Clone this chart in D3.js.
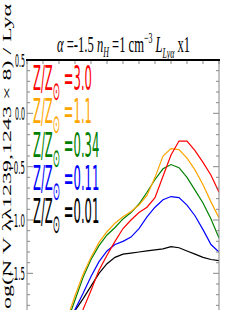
<!DOCTYPE html>
<html>
<head>
<meta charset="utf-8">
<script src="https://cdn.jsdelivr.net/npm/d3@7"></script>
<style>
body { margin: 0; background: #fff; }
svg { display: block; }
</style>
</head>
<body>
<div id="chart"></div>
<script>
// values
var xVals = [2.5, 3, 3.5, 4, 4.5, 5, 5.5, 6, 6.5, 7, 7.5, 8, 8.5, 9, 9.5, 10, 10.5, 11, 11.5, 12];
var zRed    = [-2.22, -2.03, -1.84, -1.66, -1.47, -1.33, -1.20, -1.08, -1.00, -0.93, -0.88, -0.79, -0.59, -0.39, -0.26, -0.26, -0.35, -0.46, -0.58, -0.74];
var zOrange = [-1.93, -1.71, -1.51, -1.35, -1.21, -1.11, -1.03, -0.97, -0.92, -0.86, -0.77, -0.60, -0.40, -0.33, -0.34, -0.42, -0.53, -0.67, -0.83, -0.98];
var zGreen  = [-1.96, -1.75, -1.54, -1.37, -1.24, -1.14, -1.07, -0.99, -0.93, -0.85, -0.74, -0.62, -0.52, -0.48, -0.51, -0.60, -0.72, -0.84, -0.99, -1.17];
var zBlue   = [-1.99, -1.84, -1.69, -1.53, -1.39, -1.29, -1.23, -1.20, -1.16, -1.08, -0.97, -0.88, -0.81, -0.78, -0.79, -0.86, -0.96, -1.09, -1.23, -1.30];
var zBlack  = [-1.98, -1.85, -1.74, -1.62, -1.50, -1.41, -1.35, -1.32, -1.31, -1.30, -1.29, -1.28, -1.27, -1.25, -1.26, -1.29, -1.32, -1.35, -1.37, -1.38];

var metals = ["3.0", "1.1", "0.34", "0.11", "0.01"];
var colors = ["#ff0000", "#ffa500", "#008000", "#0000ff", "#000000"];
var series = [zRed, zOrange, zGreen, zBlue, zBlack];
var yTicks = [0.5, 0.0, -0.5, -1.0, -1.5];

var W = 244, H = 310;
var padL = 27, padR = 219, padT = 60;

var svg = d3.select("#chart").append("svg")
    .attr("width", W)
    .attr("height", H);

var x = d3.scaleLinear().domain([0, 12]).range([padL, padR]);
var y = d3.scaleLinear().domain([-2.5, 0.5]).range([padT + 3 * 106.67, padT]);

svg.append("clipPath").attr("id", "plot")
    .append("rect")
    .attr("x", padL).attr("y", padT)
    .attr("width", padR - padL).attr("height", H - padT);

// curves
var line = d3.line()
    .x(function (d, i) { return x(xVals[i]); })
    .y(function (d) { return y(d); });

var g = svg.append("g").attr("clip-path", "url(#plot)");
for (var s = series.length - 1; s >= 0; s--) {
    g.append("path")
        .attr("d", line(series[s]))
        .attr("fill", "none")
        .attr("stroke", colors[s])
        .attr("stroke-width", 1.2);
}

// frame
svg.append("line")
    .attr("x1", padL).attr("y1", padT).attr("x2", padL).attr("y2", H)
    .attr("stroke", "#888").attr("stroke-width", 1);
svg.append("line")
    .attr("x1", padR).attr("y1", padT).attr("x2", padR).attr("y2", H)
    .attr("stroke", "#888").attr("stroke-width", 1);

// minor y ticks on both sides
var minor = d3.range(-25, 6).map(function (i) { return i / 10; });
minor.forEach(function (v) {
    var major = Math.abs(v * 2 - Math.round(v * 2)) < 1e-6;
    var len = major ? 6 : 3;
    svg.append("line")
        .attr("x1", padL).attr("x2", padL + len)
        .attr("y1", y(v)).attr("y2", y(v))
        .attr("stroke", "#888");
    svg.append("line")
        .attr("x1", padR).attr("x2", padR - len)
        .attr("y1", y(v)).attr("y2", y(v))
        .attr("stroke", "#888");
});

// top x ticks
d3.range(0, 13).forEach(function (u) {
    svg.append("line")
        .attr("x1", x(u)).attr("x2", x(u))
        .attr("y1", padT).attr("y2", padT + 4)
        .attr("stroke", "#888");
});

svg.append("line")
    .attr("x1", padL - 1).attr("y1", padT).attr("x2", padR + 1).attr("y2", padT)
    .attr("stroke", "#000").attr("stroke-width", 2);

// y tick labels
yTicks.forEach(function (v) {
    var lab = d3.format(".1f")(v).replace("-", "\u2212");
    var w = lab.length > 3 ? 17 : 10;
    svg.append("text")
        .attr("x", 25 - w)
        .attr("y", y(v) + 7)
        .attr("font-family", "DejaVu Sans")
        .attr("font-size", 18)
        .attr("textLength", w)
        .attr("lengthAdjust", "spacingAndGlyphs")
        .text(lab);
});

// y label (squeezed sideways, clipped by the window)
svg.append("text")
    .attr("transform", "translate(11,4) scale(0.5,1) rotate(-90)")
    .attr("text-anchor", "end")
    .attr("font-family", "Liberation Serif")
    .attr("font-size", 24)
    .text("log(N V \u03bb\u03bb1239,1243 \u00d7 8) / Ly\u03b1");

// title
var title = svg.append("text")
    .attr("x", 57).attr("y", 52)
    .attr("font-family", "Liberation Serif")
    .attr("font-size", 24);
title.append("tspan").attr("font-style", "italic").text("\u03b1");
title.append("tspan").text(" =-1.5  ");
title.append("tspan").attr("font-style", "italic").text("n");
title.append("tspan").attr("font-style", "italic").attr("font-size", 15).attr("dy", 5).text("H");
title.append("tspan").attr("dy", -5).text(" =1 cm");
title.append("tspan").attr("font-size", 15).attr("dy", -9).text("\u22123");
title.append("tspan").attr("dy", 9).text("  ");
title.append("tspan").attr("font-style", "italic").text("L");
title.append("tspan").attr("font-style", "italic").attr("font-size", 15).attr("dy", 6).text("Ly\u03b1");
title.append("tspan").attr("dy", -6).text(" x1");
title.attr("textLength", 133).attr("lengthAdjust", "spacingAndGlyphs");

// legend
var legScale = null;
metals.forEach(function (m, i) {
    var t = svg.append("text")
        .attr("font-family", "DejaVu Sans")
        .attr("font-size", 34)
        .attr("fill", colors[i]);
    t.append("tspan").text("Z/Z");
    t.append("tspan").attr("font-size", 26).attr("dy", 10).text("\u2299");
    t.append("tspan").attr("dy", -10).text(" =" + m);
    if (legScale === null) {
        legScale = 59 / t.node().getComputedTextLength();
    }
    t.attr("transform", "translate(33," + (90 + 33.25 * i) + ") scale(" + legScale + ",1)");
});
</script>
</body>
</html>
